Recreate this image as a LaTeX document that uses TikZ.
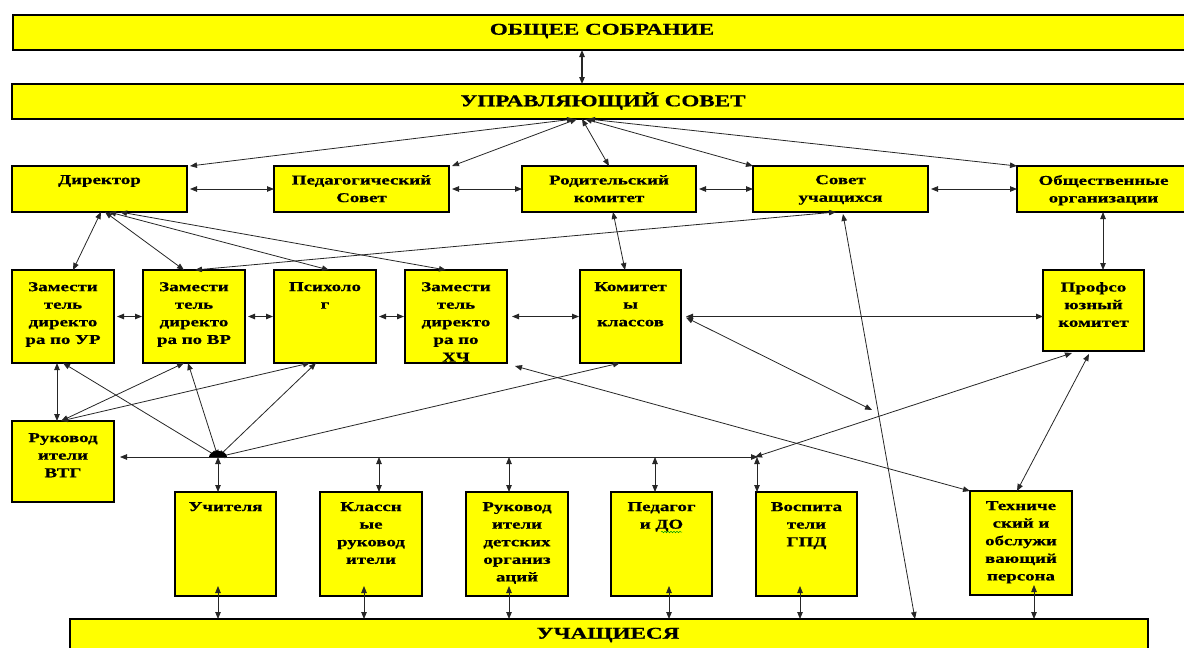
\documentclass[tikz,border=0pt]{standalone}
\usepackage{fontspec}
\setmainfont{Liberation Serif}[FakeStretch=1.4,BoldFeatures={FakeBold=0.6}]
\usetikzlibrary{arrows.meta,decorations.pathmorphing}
\definecolor{yel}{RGB}{255,255,0}
\newcommand\mybox[5]{%
  \pgfmathsetmacro\bw{#4-#2}\pgfmathsetmacro\bh{#5-#3}%
  \node[box,minimum width=\bw pt,minimum height=\bh pt] (#1) at (#2,#3) {};}
\begin{document}
\begin{tikzpicture}[x=1pt,y=-1pt,
  box/.style={draw=black,line width=1.1pt,fill=yel,anchor=north west,inner sep=0pt,outer sep=0pt},
  lbl/.style={font=\bfseries\fontsize{13.5}{17.6}\selectfont,align=center,anchor=north,inner sep=0pt},
  big/.style={font=\bfseries\fontsize{16.5}{20}\selectfont,inner sep=0pt},
  con/.style={draw=black!85,line width=0.8pt,{Triangle[length=7pt,width=5.5pt]}-{Triangle[length=7pt,width=5.5pt]}},
  oneway/.style={draw=black!85,line width=0.8pt,-{Triangle[length=7pt,width=5.5pt]}},
]
\useasboundingbox (0,0) rectangle (1184,648);
\clip (0,0) rectangle (1184,648);

% banners
\mybox{os}{13}{15}{1190}{50}
\mybox{us}{12}{84}{1190}{119}
\mybox{ucs}{70}{619}{1148}{662}
\node[big] at (602,31) {ОБЩЕЕ СОБРАНИЕ};
\node[big] at (603,101) {УПРАВЛЯЮЩИЙ СОВЕТ};
\node[big] at (608,635) {УЧАЩИЕСЯ};

% row 2
\mybox{dir}{12}{166}{187}{212}
\mybox{ped}{274}{166}{449}{212}
\mybox{rod}{522}{166}{696}{212}
\mybox{sov}{753}{166}{928}{212}
\mybox{obs}{1017}{166}{1190}{212}
\node[lbl] at ([yshift=-9pt]dir.north) {Директор};
\node[lbl] at ([yshift=-9pt]ped.north) {Педагогический\\Совет};
\node[lbl] at ([yshift=-9pt]rod.north) {Родительский\\комитет};
\node[lbl] at ([yshift=-9pt]sov.north) {Совет\\учащихся};
\node[lbl] at ([yshift=-9pt]obs.north) {Общественные\\организации};

% row 3
\mybox{zur}{12}{270}{114}{363}
\mybox{zvr}{143}{270}{245}{363}
\mybox{psy}{274}{270}{376}{363}
\mybox{zhch}{405}{270}{507}{363}
\mybox{kom}{580}{270}{681}{363}
\mybox{prof}{1043}{270}{1144}{351}
\node[lbl] at ([yshift=-12pt]zur.north) {Замести\\тель\\директо\\ра по УР};
\node[lbl] at ([yshift=-12pt]zvr.north) {Замести\\тель\\директо\\ра по ВР};
\node[lbl] at ([yshift=-12pt]psy.north) {Психоло\\г};
\begin{scope}
  \clip (zhch.south west) rectangle (zhch.north east);
  \node[lbl] at ([yshift=-12pt]zhch.north) {Замести\\тель\\директо\\ра по\\ХЧ};
\end{scope}
\draw[line width=1.1pt] (zhch.south west) -- (zhch.south east);
\node[lbl] at ([yshift=-12pt]kom.north) {Комитет\\ы\\классов};
\node[lbl] at ([yshift=-12pt]prof.north) {Профсо\\юзный\\комитет};

% VTG
\mybox{vtg}{12}{421}{114}{502}
\node[lbl] at ([yshift=-12pt]vtg.north) {Руковод\\ители\\ВТГ};

% row 5
\mybox{uch}{175}{492}{276}{596}
\mybox{kl}{320}{492}{422}{596}
\mybox{rdo}{466}{492}{568}{596}
\mybox{pdo}{611}{492}{712}{596}
\mybox{vgpd}{756}{492}{857}{596}
\mybox{teh}{970}{491}{1072}{595}
\node[lbl] at ([yshift=-10pt]uch.north) {Учителя};
\node[lbl] at ([yshift=-10pt]kl.north) {Классн\\ые\\руковод\\ители};
\node[lbl] at ([yshift=-10pt]rdo.north) {Руковод\\ители\\детских\\организ\\аций};
\node[lbl] at ([yshift=-10pt]pdo.north) {Педагог\\и ДО};
\node[lbl] at ([yshift=-10pt]vgpd.north) {Воспита\\тели\\ГПД};
\node[lbl] at ([yshift=-10pt]teh.north) {Техниче\\ский и\\обслужи\\вающий\\персона};
\draw[green!60!black,line width=0.5pt,decorate,decoration={snake,amplitude=0.8pt,segment length=3pt}] (661,532) -- (682,532);

% free points
\coordinate (hub) at (218,457);
\coordinate (vtgarr) at (120,457);
\coordinate (lineend) at (758,457);
\coordinate (kfree) at (872,410);

% top vertical
\draw[con,line width=1.1pt] ([xshift=569pt]os.south west) -- ([xshift=570pt]us.north west);

% fan from council
\draw[con] ([xshift=562pt]us.south west) -- ([xshift=3pt]dir.north east);
\draw[con] ([xshift=565pt]us.south west) -- ([xshift=3pt]ped.north east);
\draw[con] ([xshift=570pt]us.south west) -- ([xshift=87pt]rod.north west);
\draw[con] ([xshift=573pt]us.south west) -- (sov.north west);
\draw[con] ([xshift=576pt]us.south west) -- (obs.north west);

% row 2 horizontals
\draw[con] ([xshift=3pt]dir.east) -- (ped.west);
\draw[con] ([xshift=3pt]ped.east) -- (rod.west);
\draw[con] ([xshift=3pt]rod.east) -- (sov.west);
\draw[con] ([xshift=3pt]sov.east) -- (obs.west);

% row 2 to row 3
\draw[con] ([xshift=89pt]dir.south west) -- ([xshift=61pt]zur.north west);
\draw[con] ([xshift=93pt]dir.south west) -- ([xshift=41pt]zvr.north west);
\draw[con] ([xshift=97pt]dir.south west) -- ([xshift=55pt]psy.north west);
\draw[con] ([xshift=108pt]dir.south west) -- ([xshift=41pt]zhch.north west);
\draw[con] ([xshift=83pt]sov.south west) -- ([xshift=52pt]zvr.north west);
\draw[con] ([xshift=91pt]rod.south west) -- ([xshift=45pt]kom.north west);
\draw[con] ([xshift=86pt]obs.south west) -- ([xshift=60pt]prof.north west);

% row 3 horizontals
\draw[con] ([xshift=3pt]zur.east) -- ([xshift=-1pt]zvr.west);
\draw[con] ([xshift=3pt]zvr.east) -- ([xshift=-1pt]psy.west);
\draw[con] ([xshift=3pt]psy.east) -- ([xshift=-1pt]zhch.west);
\draw[con] ([xshift=5pt]zhch.east) -- ([xshift=-1pt]kom.west);
\draw[con] ([xshift=5pt]kom.east) -- (kom.east -| prof.west);
\draw[con] ([xshift=5pt,yshift=-1pt]kom.east) -- (kfree);

% to VTG
\draw[con] ([xshift=45pt]zur.south west) -- ([xshift=45pt]vtg.north west);
\draw[con] ([xshift=41pt]zvr.south west) -- ([xshift=49pt]vtg.north west);
\draw[con] ([xshift=36pt]psy.south west) -- ([xshift=49pt]vtg.north west);

% to hub
\draw[con] ([xshift=51pt]zur.south west) -- (hub);
\draw[con] ([xshift=45pt]zvr.south west) -- (hub);
\draw[con] ([xshift=42pt]psy.south west) -- (hub);
\draw[con] ([xshift=40pt]kom.south west) -- (hub);
\fill ([xshift=-9pt]hub) arc[start angle=180,end angle=0,x radius=9pt,y radius=6pt] -- cycle;

% hub line
\draw[oneway] (hub) -- (vtgarr);
\draw[oneway] (hub) -- (lineend);

% down to row 5
\draw[con] ([xshift=43pt,yshift=35pt]uch.north west) -- ([xshift=43pt]uch.north west);
\draw[con] ([xshift=59pt,yshift=35pt]kl.north west) -- ([xshift=59pt]kl.north west);
\draw[con] ([xshift=43pt,yshift=35pt]rdo.north west) -- ([xshift=43pt]rdo.north west);
\draw[con] ([xshift=44pt,yshift=35pt]pdo.north west) -- ([xshift=44pt]pdo.north west);
\draw[con] ([xshift=1pt,yshift=35pt]vgpd.north west) -- ([xshift=1pt]vgpd.north west);

% row 5 to students
\draw[con] ([xshift=43pt,yshift=10pt]uch.south west) -- ([xshift=148pt]ucs.north west);
\draw[con] ([xshift=44pt,yshift=10pt]kl.south west) -- ([xshift=294pt]ucs.north west);
\draw[con] ([xshift=43pt,yshift=10pt]rdo.south west) -- ([xshift=439pt]ucs.north west);
\draw[con] ([xshift=58pt,yshift=10pt]pdo.south west) -- ([xshift=599pt]ucs.north west);
\draw[con] ([xshift=44pt,yshift=10pt]vgpd.south west) -- ([xshift=730pt]ucs.north west);
\draw[con] ([xshift=64pt,yshift=10pt]teh.south west) -- ([xshift=964pt]ucs.north west);

% long diagonals
\draw[con] ([xshift=90pt,yshift=-2pt]sov.south west) -- ([xshift=845pt]ucs.north west);
\draw[con] ([xshift=8pt,yshift=-3pt]zhch.south east) -- (teh.north west);
\draw[con] ([xshift=29pt,yshift=-2pt]prof.south west) -- ([xshift=-3pt]lineend);
\draw[con] ([xshift=46pt,yshift=-3pt]prof.south west) -- ([xshift=47pt]teh.north west);
\end{tikzpicture}
\end{document}
